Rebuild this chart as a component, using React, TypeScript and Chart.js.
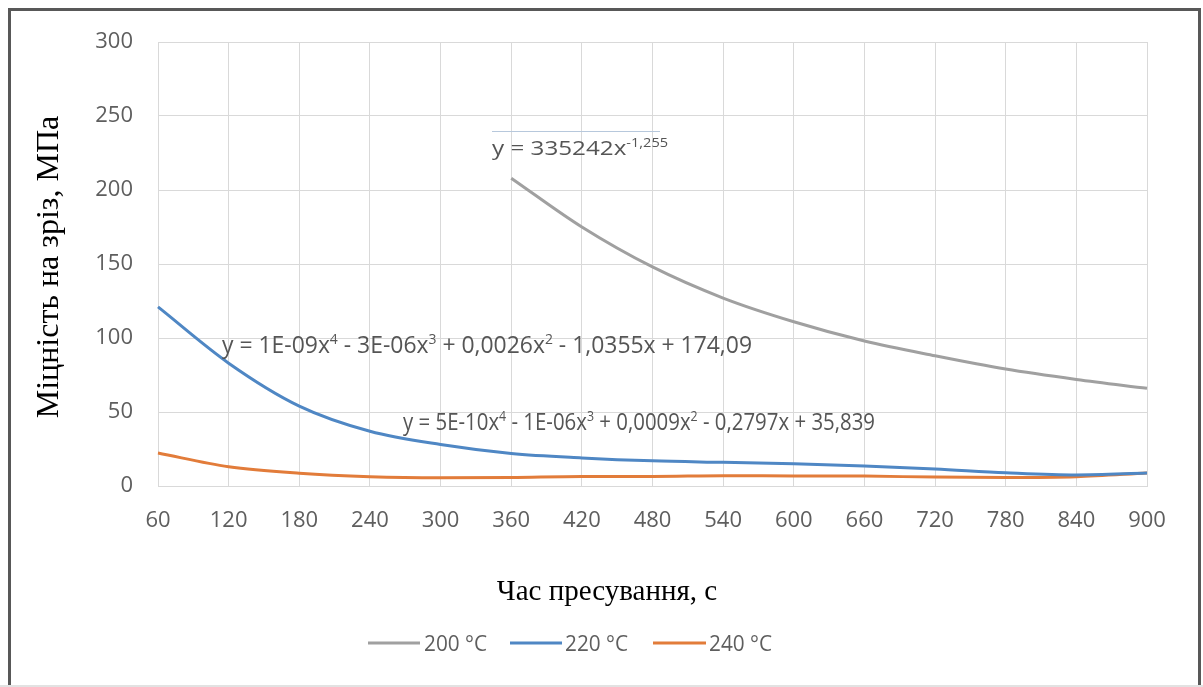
import React, { useEffect, useRef } from "react";
import { Chart, registerables } from "chart.js";

Chart.register(...registerables);

// ---- data ----
const timeLabels = ["60", "120", "180", "240", "300", "360", "420", "480", "540", "600", "660", "720", "780", "840", "900"];
const yTicks = [0, 50, 100, 150, 200, 250, 300];
const series200 = [null, null, null, null, null, 208, 175, 148, 127, 111, 98, 88, 79, 72, 66];
const series220 = [121, 83, 54, 37, 28, 22, 19, 17, 16, 15, 13.5, 11.5, 9, 7.5, 8.8];
const series240 = [22.3, 13, 8.6, 6.3, 5.6, 5.8, 6.5, 6.5, 7, 6.8, 6.7, 6, 5.8, 6.3, 8.8];
const seriesNames = ["200 °C", "220 °C", "240 °C"];
const seriesColors = ["#a0a0a0", "#4f87c4", "#e27c3a"];
const xTitle = "Час пресування, с";
const yTitle = "Міцність на зріз, МПа";

type Seg = { t: string; sup?: boolean };
const eq200: Seg[] = [{ t: "y = 335242x" }, { t: "-1,255", sup: true }];
const eq220: Seg[] = [
  { t: "y = 1E-09x" }, { t: "4", sup: true }, { t: " - 3E-06x" }, { t: "3", sup: true },
  { t: " + 0,0026x" }, { t: "2", sup: true }, { t: " - 1,0355x + 174,09" },
];
const eq240: Seg[] = [
  { t: "y = 5E-10x" }, { t: "4", sup: true }, { t: " - 1E-06x" }, { t: "3", sup: true },
  { t: " + 0,0009x" }, { t: "2", sup: true }, { t: " - 0,2797x + 35,839" },
];

const SANS = "'Open Sans', 'Noto Sans', sans-serif";
const SERIF = "'Liberation Serif', 'DejaVu Serif', serif";
const TEXT_GRAY = "#5e5e5e";

function drawScaledText(ctx: CanvasRenderingContext2D, segs: Seg[], x: number, baseline: number, size: number, targetWidth: number, color: string) {
  const supSize = Math.round(size * 0.62);
  let natural = 0;
  for (const s of segs) {
    ctx.font = `${s.sup ? supSize : size}px ${SANS}`;
    natural += ctx.measureText(s.t).width;
  }
  const sx = targetWidth / natural;
  ctx.save();
  ctx.translate(x, baseline);
  ctx.scale(sx, 1);
  ctx.fillStyle = color;
  ctx.textBaseline = "alphabetic";
  ctx.textAlign = "left";
  let cx = 0;
  for (const s of segs) {
    ctx.font = `${s.sup ? supSize : size}px ${SANS}`;
    ctx.fillText(s.t, cx, s.sup ? -size * 0.4 : 0);
    cx += ctx.measureText(s.t).width;
  }
  ctx.restore();
}

const decorPlugin = {
  id: "decor",
  beforeDraw(chart: any) {
    const ctx = chart.ctx as CanvasRenderingContext2D;
    ctx.save();
    ctx.fillStyle = "#ffffff";
    ctx.fillRect(0, 0, chart.width, chart.height);
    ctx.restore();
  },
  afterDraw(chart: any) {
    const ctx = chart.ctx as CanvasRenderingContext2D;
    ctx.save();
    // outer frame
    ctx.strokeStyle = "#585858";
    ctx.lineWidth = 3;
    ctx.strokeRect(9.5, 9.5, 1190, 720);
    ctx.fillStyle = "#e2e2e2";
    ctx.fillRect(0, 685, chart.width, 2);

    // axis titles
    ctx.fillStyle = "#000000";
    ctx.textAlign = "center";
    ctx.textBaseline = "middle";
    ctx.font = `29px ${SERIF}`;
    ctx.fillText(xTitle, 607, 592);
    ctx.save();
    ctx.translate(50, 267);
    ctx.rotate(-Math.PI / 2);
    ctx.font = `32px ${SERIF}`;
    ctx.fillText(yTitle, 0, 0);
    ctx.restore();

    // trendline equations
    ctx.strokeStyle = "#b7c8dc";
    ctx.lineWidth = 1;
    ctx.beginPath();
    ctx.moveTo(492, 131.5);
    ctx.lineTo(660, 131.5);
    ctx.stroke();
    drawScaledText(ctx, eq200, 492, 155, 20, 176, "#555555");
    drawScaledText(ctx, eq220, 222, 353, 23, 530, "#555555");
    drawScaledText(ctx, eq240, 403, 430, 23, 472, "#555555");

    // legend
    const items = [
      { x1: 368, x2: 420, tx: 424 },
      { x1: 510, x2: 562, tx: 565 },
      { x1: 653, x2: 706, tx: 709 },
    ];
    items.forEach((it, i) => {
      ctx.strokeStyle = seriesColors[i];
      ctx.lineWidth = 3;
      ctx.beginPath();
      ctx.moveTo(it.x1, 643);
      ctx.lineTo(it.x2, 643);
      ctx.stroke();
      drawScaledText(ctx, [{ t: seriesNames[i] }], it.tx, 651, 21, 63, TEXT_GRAY);
    });
    ctx.restore();
  },
};

export default function App() {
  const canvasRef = useRef<HTMLCanvasElement | null>(null);

  useEffect(() => {
    if (!canvasRef.current) return;
    const mk = (data: (number | null)[], i: number) => ({
      label: seriesNames[i],
      data,
      borderColor: seriesColors[i],
      backgroundColor: seriesColors[i],
      borderWidth: 3,
      pointRadius: 0,
      cubicInterpolationMode: "monotone" as const,
      fill: false,
    });
    const chart = new Chart(canvasRef.current, {
      type: "line",
      data: {
        labels: timeLabels,
        datasets: [mk(series200, 0), mk(series220, 1), mk(series240, 2)],
      },
      options: {
        responsive: false,
        animation: false,
        layout: { padding: { left: 0, top: 42, right: 56, bottom: 0 } },
        plugins: { legend: { display: false }, tooltip: { enabled: false } },
        scales: {
          x: {
            type: "category",
            offset: false,
            grid: { color: "#d9d9d9", lineWidth: 1, drawTicks: false, offset: false },
            border: { color: "#d9d9d9" },
            ticks: { color: TEXT_GRAY, font: { family: SANS, size: 22 }, padding: 22, maxRotation: 0, autoSkip: false },
            afterFit: (s: any) => { s.height = 201; },
          },
          y: {
            min: 0,
            max: 300,
            grid: { color: "#d9d9d9", lineWidth: 1, drawTicks: false },
            border: { color: "#d9d9d9" },
            ticks: {
              color: TEXT_GRAY,
              font: { family: SANS, size: 22 },
              padding: 25,
              stepSize: 50,
              callback: (v: any) => (yTicks.includes(Number(v)) ? String(v) : ""),
            },
            afterFit: (s: any) => { s.width = 158; },
          },
        },
      },
      plugins: [decorPlugin],
    });
    return () => chart.destroy();
  }, []);

  return (
    <div style={{ position: "fixed", left: 0, top: 0, width: 1203, height: 687, background: "#fff" }}>
      <canvas ref={canvasRef} width={1203} height={687} style={{ display: "block", width: 1203, height: 687 }} />
    </div>
  );
}
